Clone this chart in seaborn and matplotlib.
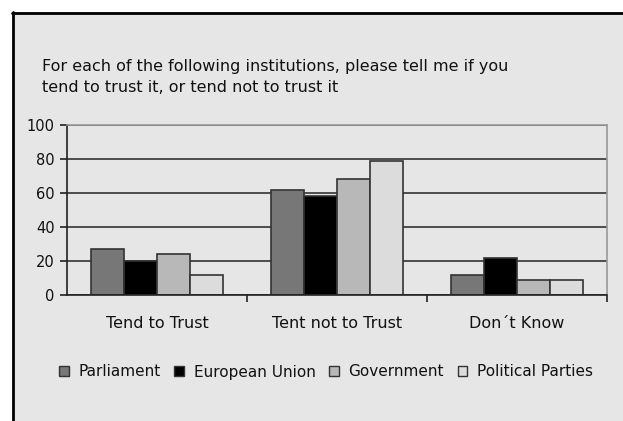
import matplotlib
matplotlib.use("Agg")
import matplotlib.pyplot as plt
from matplotlib.lines import Line2D
from matplotlib.patches import Rectangle
import seaborn as sns
import pandas as pd

categories = ["Tend to Trust", "Tent not to Trust", "Don\u00b4t Know"]
institutions = ["Parliament", "European Union", "Government", "Political Parties"]
parliament = [27, 62, 12]
european_union = [20, 58, 22]
government = [24, 68, 9]
political_parties = [12, 79, 9]
title = "For each of the following institutions, please tell me if you\ntend to trust it, or tend not to trust it"

series = [parliament, european_union, government, political_parties]
rows = []
for inst, vals in zip(institutions, series):
    for cat, v in zip(categories, vals):
        rows.append({"category": cat, "institution": inst, "value": v})
df = pd.DataFrame(rows)

sns.set_style("white")
plt.rcParams["font.family"] = ["DejaVu Sans"]

W, H = 623, 421
fig = plt.figure(figsize=(W / 100, H / 100), dpi=100)
fig.patch.set_facecolor("white")
bg = "#e6e6e6"
fig.patches.append(Rectangle((12 / W, 0), 1, 1 - 12 / H, transform=fig.transFigure,
                             facecolor=bg, edgecolor="none", zorder=-10))
fig.lines.append(Line2D([12 / W, 1], [1 - 13 / H, 1 - 13 / H], transform=fig.transFigure,
                        color="black", linewidth=2, zorder=-5))
fig.lines.append(Line2D([13 / W, 13 / W], [0, 1 - 12 / H], transform=fig.transFigure,
                        color="black", linewidth=2, zorder=-5))

ax = fig.add_axes([67 / W, (H - 295) / H, 540 / W, 170 / H])
ax.set_facecolor(bg)

palette = ["#777777", "#000000", "#b8b8b8", "#dcdcdc"]
sns.barplot(data=df, x="category", y="value", hue="institution", order=categories,
            hue_order=institutions, palette=palette, width=0.73, gap=0,
            edgecolor="#333333", linewidth=1.2, ax=ax, legend=False, zorder=3)

ax.set_ylim(0, 100)
ax.set_xlim(-0.5, 2.5)
ax.set_yticks([0, 20, 40, 60, 80, 100])
ax.yaxis.grid(True, color="#333333", linewidth=1.2)
ax.set_axisbelow(True)
ax.set_xlabel("")
ax.set_ylabel("")
for s in ["top", "right"]:
    ax.spines[s].set_color("#999999")
    ax.spines[s].set_linewidth(1.2)
for s in ["left", "bottom"]:
    ax.spines[s].set_color("#222222")
    ax.spines[s].set_linewidth(1.2)
ax.spines["bottom"].set_zorder(5)

ax.tick_params(axis="y", which="major", length=5, width=1.2, color="#222222",
               labelsize=10.5, pad=4, direction="out", left=True, labelcolor="#111111")
ax.tick_params(axis="x", which="major", length=0, labelsize=11.5, pad=15,
               labelcolor="#111111")
ax.set_xticks([0.5, 1.5, 2.5], minor=True)
ax.tick_params(axis="x", which="minor", length=5, width=1.2, color="#222222",
               direction="out", bottom=True)

fig.text(42 / W, 1 - 77 / H, title, ha="left", va="center", fontsize=11.5,
         linespacing=1.45, color="#111111")

handles = [Rectangle((0, 0), 1, 1, facecolor=c, edgecolor="#333333", linewidth=1)
           for c in palette]
fig.legend(handles, institutions, loc="center", bbox_to_anchor=(326 / W, 1 - 372 / H),
           ncol=4, frameon=False, fontsize=11, handlelength=0.65, handleheight=0.65,
           handletextpad=0.6, columnspacing=0.9, labelcolor="#111111")

fig.savefig("out.png", dpi=100, facecolor=fig.get_facecolor())
